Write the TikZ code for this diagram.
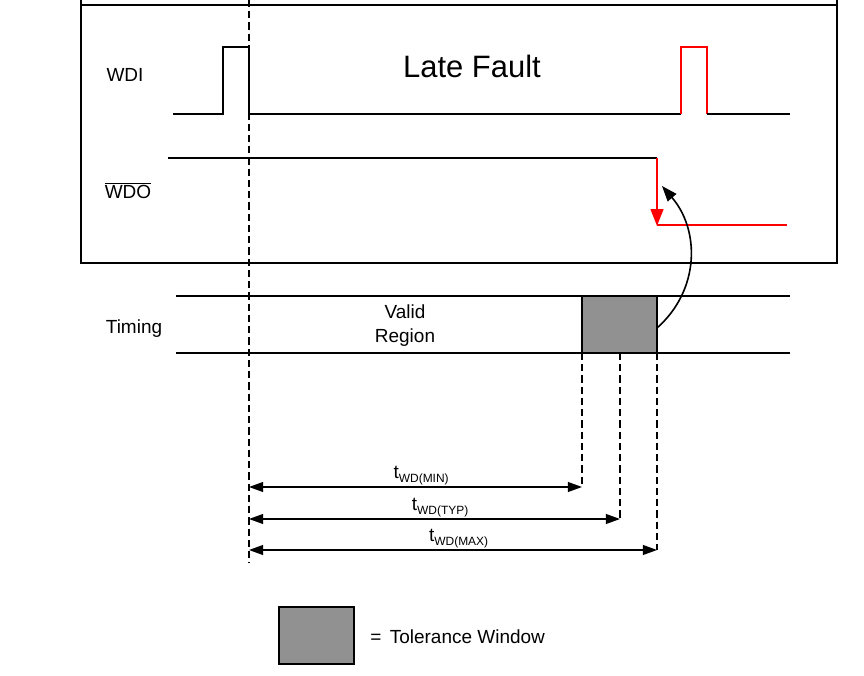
\documentclass[tikz,border=0pt]{standalone}
\usepackage{fontspec}
\setmainfont{Liberation Sans}
\usetikzlibrary{arrows.meta}
\definecolor{tolgray}{RGB}{145,145,145}
\tikzset{
  sig/.style={black, line width=0.55mm},
  guide/.style={black, line width=0.3mm, dash pattern=on 5pt off 3pt},
  dim/.style={black, line width=0.35mm, {Triangle[length=10pt,width=7pt]}-{Triangle[length=10pt,width=7pt]}},
  lbl/.style={font=\fontsize{13.5}{15}\selectfont, inner sep=0pt}
}

\begin{document}
\begin{tikzpicture}[x=0.025cm, y=-0.025cm]
\useasboundingbox (0,0) rectangle (864,676);
% frame round the signals
\draw[black, line width=0.55mm](81,0)--(81,263)--(837,263)--(837,0);
\draw[black, line width=0.55mm](81,5)--(837,5);
\node[font=\fontsize{22}{26}\selectfont] (fault) at (472,66) {Late Fault};

% WDI
\node[lbl] (wdi) at (125,75) {WDI};
\draw[sig](173,114)--(223,114)--(223,47)--(249,47)--(249,114)--(681,114);
\draw[red, line width=0.55mm](681,114)--(681,47)--(707,47)--(707,114);
\draw[sig](707,114)--(790,114);

% WDO
\node[lbl] (wdo) at (128,191) {$\overline{\mbox{WDO}}$};
\draw[sig](168,158)--(657,158);
\coordinate (wdoH) at (657,158);
\coordinate (wdoL) at (657,226);
\draw[red, line width=0.55mm, -{Triangle[length=12pt,width=9pt]}](wdoH)--(wdoL);
\draw[red, line width=0.55mm](657,225)--(787,225);

% timing band
\node[lbl] (timing) at (134,329) {Timing};
\draw[sig](176,296)--(790,296);
\draw[sig](176,353)--(790,353);
\node[lbl, align=center, font=\fontsize{13.5}{17}\selectfont] (valid) at (405,326) {Valid\\Region};
\draw[black, line width=0.55mm, fill=tolgray](582,296) rectangle (657,353);
\coordinate (tolR) at (657,328);
\coordinate (wdoT) at (662,186);
\draw[black, line width=0.4mm, -{Triangle[length=11pt,width=8pt]}](tolR) .. controls (700,290) and (700,230) .. (wdoT);

% guide lines and durations
\draw[guide](249,0)--(249,563);
\coordinate (t0) at (249,0);
\foreach \name/\xe/\ye/\lab in {min/582/487/MIN, typ/620/519/TYP, max/657/550/MAX}{
	\draw[guide](\xe,353)--(\xe,\ye);
	\coordinate (\name L) at (249,\ye);
	\coordinate (\name R) at (\xe,\ye);
	\draw[dim](\name L)--(\name R) node[midway, above, inner sep=0.8pt, xshift=4pt]{\fontsize{13.5}{15}\selectfont t\raisebox{-0.4ex}{\fontsize{8.5}{10}\selectfont WD(\lab)}};
}

% legend
\draw[black, line width=0.55mm, fill=tolgray](279,607) rectangle (354,664);
\node[lbl, anchor=west] (tolwin) at (370,637) {=\, Tolerance Window};
\end{tikzpicture}
\end{document}
